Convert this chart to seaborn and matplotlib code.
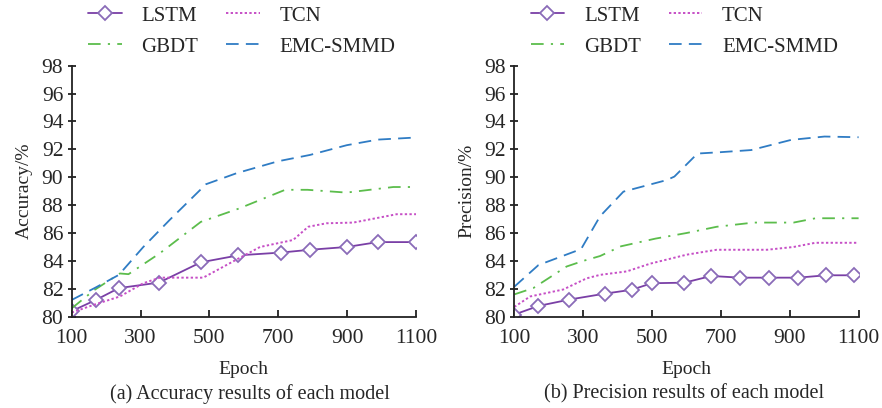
import matplotlib
matplotlib.use("Agg")
import matplotlib.pyplot as plt
import seaborn as sns

# (a) Accuracy
acc_lstm_x = [100, 170, 237, 354, 475, 584, 708, 792, 899, 989, 1099]
acc_lstm_y = [80.4, 81.2, 82.05, 82.45, 83.9, 84.4, 84.6, 84.8, 85.0, 85.35, 85.35]
acc_tcn_x = [100, 170, 240, 308, 356, 482, 579, 647, 743, 787, 840, 918, 1044, 1100]
acc_tcn_y = [80.3, 80.9, 81.45, 82.4, 82.8, 82.8, 84.1, 85.0, 85.5, 86.45, 86.7, 86.75, 87.35, 87.35]
acc_gbdt_x = [100, 165, 240, 265, 356, 475, 585, 720, 785, 898, 1034, 1100]
acc_gbdt_y = [80.6, 81.9, 83.1, 83.05, 84.55, 86.8, 87.75, 89.1, 89.1, 88.9, 89.3, 89.3]
acc_emc_x = [100, 170, 237, 308, 385, 490, 580, 700, 792, 899, 989, 1100]
acc_emc_y = [81.2, 82.1, 83.0, 85.0, 86.95, 89.5, 90.3, 91.15, 91.6, 92.3, 92.7, 92.85]

# (b) Precision
pre_lstm_x = [100, 170, 260, 362, 441, 499, 594, 672, 756, 840, 924, 1006, 1088]
pre_lstm_y = [80.15, 80.77, 81.23, 81.65, 81.93, 82.4, 82.44, 82.92, 82.8, 82.8, 82.8, 82.97, 82.97]
pre_tcn_x = [100, 146, 242, 310, 349, 427, 494, 601, 688, 834, 911, 974, 1100]
pre_tcn_y = [80.7, 81.45, 81.95, 82.75, 83.0, 83.25, 83.8, 84.45, 84.8, 84.8, 85.0, 85.3, 85.3]
pre_gbdt_x = [100, 155, 252, 300, 349, 410, 510, 600, 688, 795, 911, 975, 1100]
pre_gbdt_y = [81.6, 82.05, 83.6, 84.0, 84.35, 85.05, 85.6, 86.0, 86.45, 86.75, 86.75, 87.06, 87.06]
pre_emc_x = [100, 170, 294, 349, 417, 543, 565, 632, 700, 788, 904, 1001, 1100]
pre_emc_y = [82.15, 83.7, 84.85, 87.2, 88.97, 89.8, 90.05, 91.7, 91.8, 91.95, 92.68, 92.92, 92.87]

panels = [
    ("Accuracy/%", "(a) Accuracy results of each model",
     [(acc_lstm_x, acc_lstm_y), (acc_tcn_x, acc_tcn_y), (acc_gbdt_x, acc_gbdt_y), (acc_emc_x, acc_emc_y)]),
    ("Precision/%", "(b) Precision results of each model",
     [(pre_lstm_x, pre_lstm_y), (pre_tcn_x, pre_tcn_y), (pre_gbdt_x, pre_gbdt_y), (pre_emc_x, pre_emc_y)]),
]

model_names = ["LSTM", "TCN", "GBDT", "EMC-SMMD"]
styles = [
    dict(color="#7a3fa6", linestyle="-", linewidth=1.3, marker="D", markersize=7.5,
         markerfacecolor="white", markeredgecolor="#8a6bb8", markeredgewidth=1.3),
    dict(color="#c64fc6", linestyle=(0, (1.2, 1.2)), linewidth=1.4),
    dict(color="#5cbd4c", linestyle=(0, (7, 4, 1.2, 4)), linewidth=1.3),
    dict(color="#2f7cc4", linestyle=(0, (7, 4)), linewidth=1.3),
]

sns.set_theme(style="ticks")
plt.rcParams["font.family"] = ["Liberation Serif", "DejaVu Serif"]
plt.rcParams["axes.linewidth"] = 1.3

fig = plt.figure(figsize=(8.82, 4.08), dpi=100)
ax_lefts = [71.7 / 882, 514.3 / 882]
ax_w = 344.3 / 882
ax_b = (408 - 316.7) / 408
ax_h = 251 / 408
caption_x = [250 / 882, 684 / 882]

for i, (ylabel, caption, series) in enumerate(panels):
    ax = fig.add_axes([ax_lefts[i], ax_b, ax_w, ax_h])
    for name, (xs, ys), st in zip(model_names, series, styles):
        sns.lineplot(x=xs, y=ys, ax=ax, label=name, sort=False, errorbar=None, **st)
    ax.set_xlim(100, 1100)
    ax.set_ylim(80, 98)
    ax.set_xticks(range(100, 1101, 200))
    ax.set_yticks(range(80, 99, 2))
    sns.despine(ax=ax)
    for sp in ("left", "bottom"):
        ax.spines[sp].set_color("#222222")
    ax.tick_params(axis="x", direction="in", length=5, width=1.3, labelsize=15.5, pad=9, color="#222222")
    ax.tick_params(axis="y", direction="inout", length=6, width=1.3, labelsize=15.5, pad=3, color="#222222")
    ax.set_xlabel("Epoch", fontsize=14, labelpad=9)
    ax.set_ylabel(ylabel, fontsize=14, labelpad=6)
    handles, labels = ax.get_legend_handles_labels()
    order = [0, 2, 1, 3]
    ax.legend([handles[k] for k in order], [labels[k] for k in order],
              loc="upper left", bbox_to_anchor=(ax_lefts[i] + 16.5 / 882, 1 - 6 / 408),
              bbox_transform=fig.transFigure, ncol=2, frameon=False, fontsize=15,
              handlelength=1.6, handletextpad=0.95, columnspacing=1.35, labelspacing=0.55,
              borderpad=0, borderaxespad=0, numpoints=1)
    fig.text(caption_x[i], 1 - 394 / 408, caption, fontsize=14.5, ha="center", va="center")

fig.savefig("out.png", dpi=100)
